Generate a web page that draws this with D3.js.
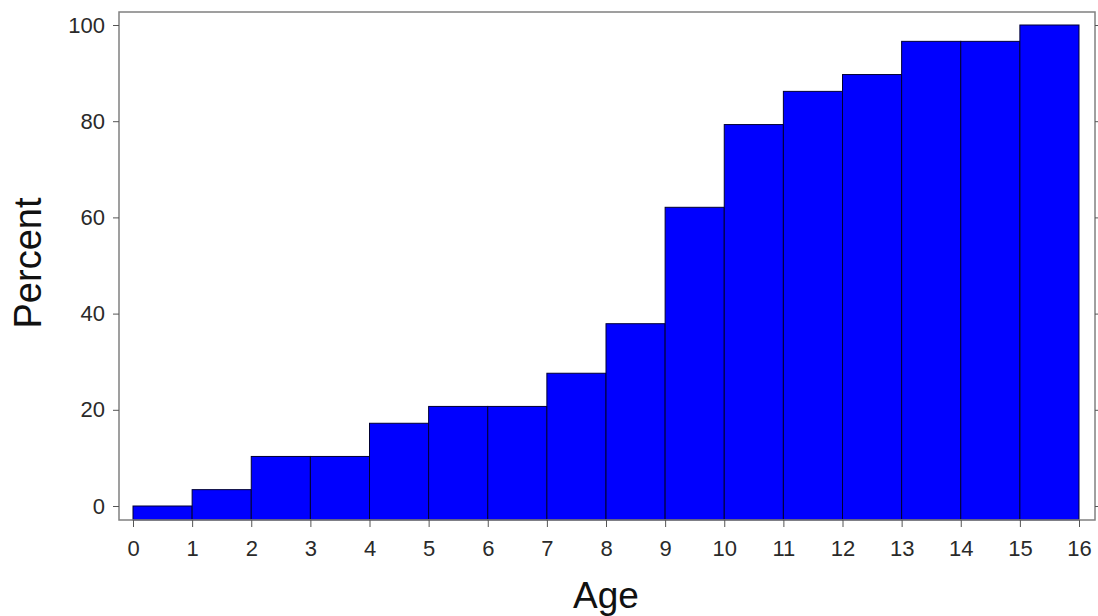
<!DOCTYPE html>
<html>
<head>
<meta charset="utf-8">
<script src="https://cdn.jsdelivr.net/npm/d3@7"></script>
<style>
  html, body { margin: 0; padding: 0; background: #fff; }
  svg { display: block; }
  text { font-family: "Liberation Sans", Arial, sans-serif; }
</style>
</head>
<body>
<svg id="chart" width="1098" height="616"></svg>
<script>
// Data
const binStarts = [0, 1, 2, 3, 4, 5, 6, 7, 8, 9, 10, 11, 12, 13, 14, 15];
const percentValues = [0, 3.4, 10.3, 10.3, 17.2, 20.7, 20.7, 27.6, 37.9, 62.1, 79.3, 86.2, 89.7, 96.6, 96.6, 100];
const xTickValues = [0, 1, 2, 3, 4, 5, 6, 7, 8, 9, 10, 11, 12, 13, 14, 15, 16];
const yTickValues = [0, 20, 40, 60, 80, 100];
const binWidth = 1;

const svg = d3.select("#chart");
const frame = { left: 119, right: 1095, top: 12, bottom: 520 };

const x = d3.scaleLinear().domain([0, 16]).range([133, 1079]);
const y = d3.scaleLinear().domain([0, 100]).range([506, 25]);

// Bars
svg.append("g")
  .selectAll("rect")
  .data(binStarts.map((s, i) => ({ s, v: percentValues[i] })))
  .join("rect")
  .attr("x", d => x(d.s))
  .attr("width", d => x(d.s + binWidth) - x(d.s))
  .attr("y", d => y(d.v))
  .attr("height", d => frame.bottom - y(d.v))
  .attr("fill", "#0000ff")
  .attr("stroke", "#000033")
  .attr("stroke-width", 1);

// Frame
svg.append("rect")
  .attr("x", frame.left)
  .attr("y", frame.top)
  .attr("width", frame.right - frame.left)
  .attr("height", frame.bottom - frame.top)
  .attr("fill", "none")
  .attr("stroke", "#808080")
  .attr("stroke-width", 1.5);

const fontStack = '"Liberation Sans", Arial, sans-serif';

// Left axis
const yAxis = d3.axisLeft(y).tickValues(yTickValues).tickSize(6).tickPadding(8);
const gy = svg.append("g").attr("transform", `translate(${frame.left},0)`).call(yAxis);
gy.select(".domain").remove();
gy.selectAll(".tick line").attr("stroke", "#555");
gy.selectAll(".tick text").attr("font-size", 22).attr("fill", "#2a2a2a")
  .style("font-family", fontStack);

// Right axis ticks (no labels)
const yAxisR = d3.axisRight(y).tickValues(yTickValues).tickSize(4).tickFormat("");
const gyr = svg.append("g").attr("transform", `translate(${frame.right},0)`).call(yAxisR);
gyr.select(".domain").remove();
gyr.selectAll(".tick line").attr("stroke", "#555");

// Bottom axis
const xAxis = d3.axisBottom(x).tickValues(xTickValues).tickSize(7).tickPadding(13);
const gx = svg.append("g").attr("transform", `translate(0,${frame.bottom})`).call(xAxis);
gx.select(".domain").remove();
gx.selectAll(".tick line").attr("stroke", "#555");
gx.selectAll(".tick text").attr("font-size", 22).attr("fill", "#2a2a2a")
  .style("font-family", fontStack);

// Axis titles
svg.append("text")
  .attr("x", 606)
  .attr("y", 608)
  .attr("text-anchor", "middle")
  .attr("font-size", 37)
  .attr("fill", "#111")
  .text("Age");

svg.append("text")
  .attr("transform", "translate(41,263) rotate(-90)")
  .attr("text-anchor", "middle")
  .attr("font-size", 38)
  .attr("fill", "#111")
  .text("Percent");
</script>
</body>
</html>
